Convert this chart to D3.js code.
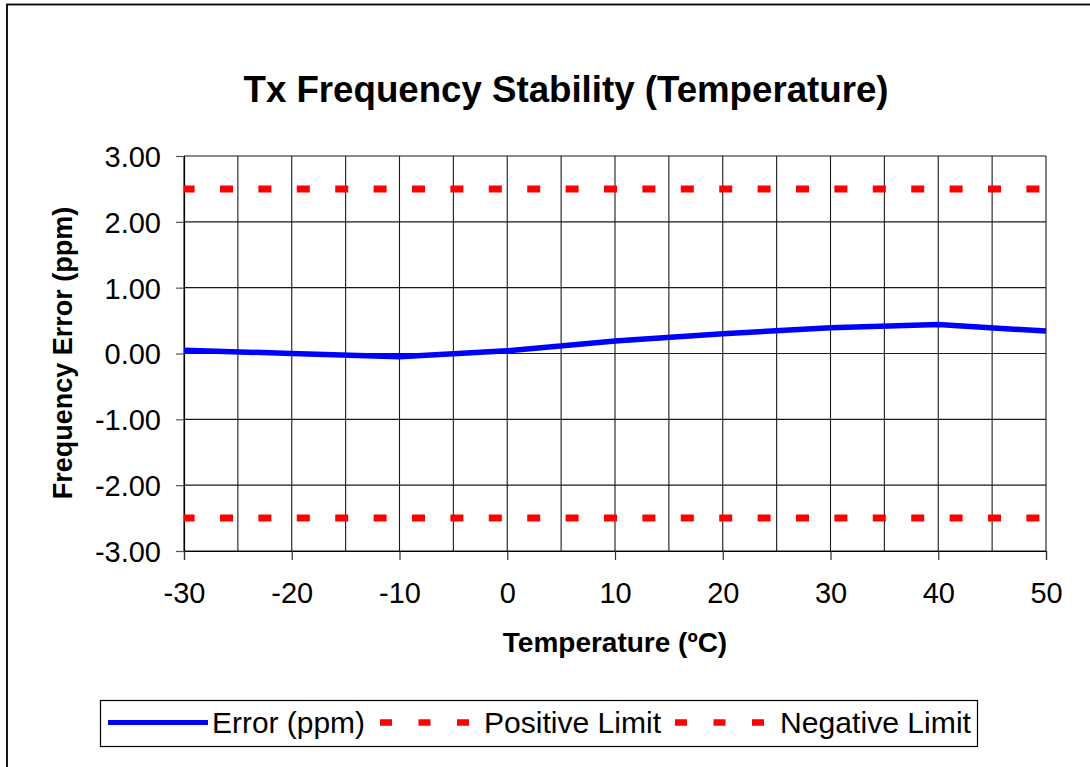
<!DOCTYPE html>
<html>
<head>
<meta charset="utf-8">
<script src="https://cdn.jsdelivr.net/npm/d3@7/dist/d3.min.js"></script>
<style>
  html, body { margin: 0; padding: 0; background: #fff; }
  svg { display: block; }
  text { font-family: "Liberation Sans", Arial, sans-serif; fill: #000; }
</style>
</head>
<body>
<svg id="chart" width="1090" height="767"></svg>
<script>
// ---- Data ----
const temperatures = [-30, -20, -10, 0, 10, 20, 30, 40, 50];
const errorPpm = [0.05, 0.00, -0.05, 0.04, 0.19, 0.30, 0.39, 0.44, 0.34];
const positiveLimit = [2.5, 2.5, 2.5, 2.5, 2.5, 2.5, 2.5, 2.5, 2.5];
const negativeLimit = [-2.5, -2.5, -2.5, -2.5, -2.5, -2.5, -2.5, -2.5, -2.5];
const xTickLabels = [-30, -20, -10, 0, 10, 20, 30, 40, 50];
const xGridValues = [-30, -25, -20, -15, -10, -5, 0, 5, 10, 15, 20, 25, 30, 35, 40, 45, 50];
const yTickLabels = [3, 2, 1, 0, -1, -2, -3];
const seriesNames = ["Error (ppm)", "Positive Limit", "Negative Limit"];
const titleText = "Tx Frequency Stability (Temperature)";
const xTitle = "Temperature (\u00BAC)";
const yTitle = "Frequency Error (ppm)";

// ---- Layout ----
const svg = d3.select("#chart");
const plot = { left: 184, top: 156, right: 1046, bottom: 551 };

const x = d3.scaleLinear().domain([-30, 50]).range([plot.left, plot.right]);
const y = d3.scaleLinear().domain([-3, 3]).range([plot.bottom, plot.top]);

// outer border
svg.append("rect")
  .attr("x", 7).attr("y", 4.5).attr("width", 1100).attr("height", 800)
  .attr("fill", "#fff").attr("stroke", "#000").attr("stroke-width", 1.8);

// title
svg.append("text")
  .attr("x", 566).attr("y", 102)
  .attr("text-anchor", "middle")
  .attr("font-size", 36).attr("font-weight", "bold")
  .attr("textLength", 645).attr("lengthAdjust", "spacingAndGlyphs")
  .text(titleText);

// grid
const grid = svg.append("g");
grid.selectAll("line.v").data(xGridValues).enter().append("line")
  .attr("x1", d => x(d)).attr("x2", d => x(d))
  .attr("y1", plot.top).attr("y2", plot.bottom)
  .attr("stroke", "#1a1a1a").attr("stroke-width", 1.1);
grid.selectAll("line.h").data(yTickLabels).enter().append("line")
  .attr("x1", plot.left).attr("x2", plot.right)
  .attr("y1", d => y(d)).attr("y2", d => y(d))
  .attr("stroke", "#1a1a1a").attr("stroke-width", 1.1);

// y axis
const yAxis = d3.axisLeft(y).tickValues(yTickLabels).tickSize(8).tickPadding(15)
  .tickFormat(d => d.toFixed(2));
const gy = svg.append("g").attr("transform", `translate(${plot.left},0)`).call(yAxis);
gy.select(".domain").attr("stroke", "#000").attr("stroke-width", 1.2);
gy.selectAll(".tick line").attr("stroke", "#555").attr("stroke-width", 1.2);
gy.selectAll(".tick text")
  .attr("font-size", 29).attr("fill", "#000")
  .attr("font-family", "'Liberation Sans', Arial, sans-serif")
  .attr("dy", "0.36em");

// x axis
const xAxis = d3.axisBottom(x).tickValues(xTickLabels).tickSize(9).tickPadding(12)
  .tickFormat(d => String(d));
const gx = svg.append("g").attr("transform", `translate(0,${plot.bottom})`).call(xAxis);
gx.select(".domain").attr("stroke", "#000").attr("stroke-width", 1.2);
gx.selectAll(".tick line").attr("stroke", "#333").attr("stroke-width", 1.2);
gx.selectAll(".tick text")
  .attr("font-size", 29).attr("fill", "#000")
  .attr("font-family", "'Liberation Sans', Arial, sans-serif")
  .attr("y", 0).attr("dy", 0)
  .attr("transform", "translate(0,52)");

// axis titles
svg.append("text")
  .attr("x", 615).attr("y", 652)
  .attr("text-anchor", "middle")
  .attr("font-size", 28).attr("font-weight", "bold")
  .text(xTitle);
svg.append("text")
  .attr("transform", "translate(72,353) rotate(-90)")
  .attr("text-anchor", "middle")
  .attr("font-size", 27).attr("font-weight", "bold")
  .text(yTitle);

// series
svg.append("clipPath").attr("id", "plotclip").append("rect")
  .attr("x", plot.left).attr("y", plot.top - 10)
  .attr("width", plot.right - plot.left).attr("height", plot.bottom - plot.top + 20);

const line = d3.line().x((d, i) => x(temperatures[i])).y(d => y(d));

const limitStyle = sel => sel
  .attr("fill", "none").attr("stroke", "#ff0000").attr("stroke-width", 7)
  .attr("stroke-dasharray", "13 25.4").attr("stroke-dashoffset", 2.4);

svg.append("path").datum(positiveLimit).attr("d", line).call(limitStyle)
  .attr("clip-path", "url(#plotclip)");
svg.append("path").datum(negativeLimit).attr("d", line).call(limitStyle)
  .attr("clip-path", "url(#plotclip)");
svg.append("path").datum(errorPpm).attr("d", line)
  .attr("fill", "none").attr("stroke", "#0000ff").attr("stroke-width", 5.5)
  .attr("stroke-linejoin", "miter");

// legend
const lg = svg.append("g");
lg.append("rect")
  .attr("x", 100.5).attr("y", 700.5).attr("width", 877).attr("height", 46)
  .attr("fill", "#fff").attr("stroke", "#000").attr("stroke-width", 1.2);
const legendY = 722.5;
const legendItems = [
  { name: seriesNames[0], x1: 108, x2: 208, tx: 212, len: 153, color: "#0000ff", dash: null, w: 5 },
  { name: seriesNames[1], x1: 380, x2: 470, tx: 484, len: 177, color: "#ff0000", dash: "12 26.5", w: 6.5 },
  { name: seriesNames[2], x1: 675, x2: 766, tx: 780, len: 191, color: "#ff0000", dash: "12 26.5", w: 6.5 }
];
legendItems.forEach(it => {
  const l = lg.append("line")
    .attr("x1", it.x1).attr("x2", it.x2).attr("y1", legendY).attr("y2", legendY)
    .attr("stroke", it.color).attr("stroke-width", it.w);
  if (it.dash) l.attr("stroke-dasharray", it.dash);
  lg.append("text")
    .attr("x", it.tx).attr("y", 733)
    .attr("font-size", 29)
    .attr("textLength", it.len).attr("lengthAdjust", "spacingAndGlyphs")
    .text(it.name);
});
</script>
</body>
</html>
